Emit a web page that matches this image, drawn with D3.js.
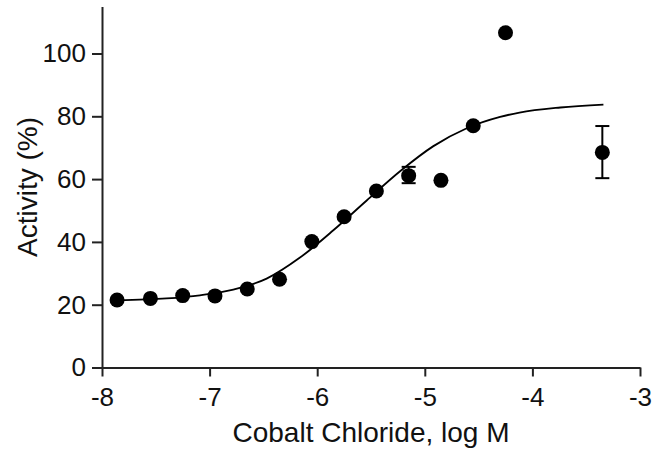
<!DOCTYPE html>
<html>
<head>
<meta charset="utf-8">
<script src="https://cdn.jsdelivr.net/npm/d3@7"></script>
<style>
  body { margin: 0; background: #fff; }
  text { font-family: "Liberation Sans", Arial, sans-serif; fill: #111; }
</style>
</head>
<body>
<div id="chart"></div>
<script>
// Measured points (log M, % activity)
const logConc = [-7.86, -7.55, -7.25, -6.95, -6.65, -6.35, -6.05, -5.75, -5.45, -5.15, -4.85, -4.55, -4.25, -3.35];
const activity = [21.5, 22.0, 22.9, 22.8, 25.0, 28.1, 40.1, 48.0, 56.2, 61.1, 59.6, 77.0, 106.6, 68.5];
// error bars (only two points have visible ones)
const errLow = [null, null, null, null, null, null, null, null, null, 58.7, null, null, null, 60.3];
const errHigh = [null, null, null, null, null, null, null, null, null, 63.9, null, null, null, 76.9];

// Fitted curve
const fitX = [-7.86, -7.40, -7.09, -6.78, -6.47, -6.16, -5.85, -5.54, -5.23, -4.92, -4.61, -4.30, -4.12, -3.74, -3.34];
const fitY = [21.4, 22.0, 23.0, 24.8, 28.3, 35.0, 43.7, 53.2, 62.5, 70.5, 76.2, 79.8, 81.2, 82.8, 83.7];

const xTicks = [-8, -7, -6, -5, -4, -3];
const yTicks = [0, 20, 40, 60, 80, 100];

const width = 658, height = 450;

const svg = d3.select("#chart")
    .append("svg")
    .attr("width", width)
    .attr("height", height);

const x = d3.scaleLinear()
    .domain([-8, -3])
    .range([102, 640]);

const y = d3.scaleLinear()
    .domain([0, 115])
    .range([367.5, 6.4]);

// axes
const xAxis = d3.axisBottom(x)
    .tickValues(xTicks)
    .tickFormat(d => String(d))
    .tickSize(9)
    .tickPadding(11)
    .tickSizeOuter(0);

const yAxis = d3.axisLeft(y)
    .tickValues(yTicks)
    .tickSize(10)
    .tickPadding(6)
    .tickSizeOuter(0);

const gx = svg.append("g")
    .attr("transform", "translate(0," + y(0) + ")")
    .call(xAxis);

const gy = svg.append("g")
    .attr("transform", "translate(" + x(-8) + ",0)")
    .call(yAxis);

[gx, gy].forEach(g => {
    g.selectAll("path, line")
        .attr("stroke", "#222")
        .attr("stroke-width", 2);
    g.selectAll("text")
        .style("font-size", "26px")
        .attr("fill", "#111");
});

// fitted curve
const fitData = fitX.map((v, i) => ({ x: v, y: fitY[i] }));
svg.append("path")
    .datum(fitData)
    .attr("fill", "none")
    .attr("stroke", "#000")
    .attr("stroke-width", 1.8)
    .attr("d", d3.line()
        .x(d => x(d.x))
        .y(d => y(d.y))
        .curve(d3.curveMonotoneX));

const points = logConc.map((v, i) => ({ x: v, y: activity[i], lo: errLow[i], hi: errHigh[i] }));

// error bars
const withErr = points.filter(d => d.lo !== null);
const capW = 7;
withErr.forEach(d => {
    const g = svg.append("g")
        .attr("stroke", "#000")
        .attr("stroke-width", 2);
    g.append("line")
        .attr("x1", x(d.x)).attr("x2", x(d.x))
        .attr("y1", y(d.lo)).attr("y2", y(d.hi));
    g.append("line")
        .attr("x1", x(d.x) - capW).attr("x2", x(d.x) + capW)
        .attr("y1", y(d.lo)).attr("y2", y(d.lo));
    g.append("line")
        .attr("x1", x(d.x) - capW).attr("x2", x(d.x) + capW)
        .attr("y1", y(d.hi)).attr("y2", y(d.hi));
});

// data points
svg.selectAll(".dot")
    .data(points)
    .enter()
    .append("circle")
    .attr("class", "dot")
    .attr("cx", d => x(d.x))
    .attr("cy", d => y(d.y))
    .attr("r", 7.5)
    .attr("fill", "#000");

// axis titles
svg.append("text")
    .attr("x", (x(-8) + x(-3)) / 2)
    .attr("y", 442)
    .attr("text-anchor", "middle")
    .style("font-size", "28px")
    .text("Cobalt Chloride, log M");

svg.append("text")
    .attr("transform", "translate(37," + ((y(0) + y(115)) / 2) + ") rotate(-90)")
    .attr("text-anchor", "middle")
    .style("font-size", "28px")
    .text("Activity (%)");
</script>
</body>
</html>
